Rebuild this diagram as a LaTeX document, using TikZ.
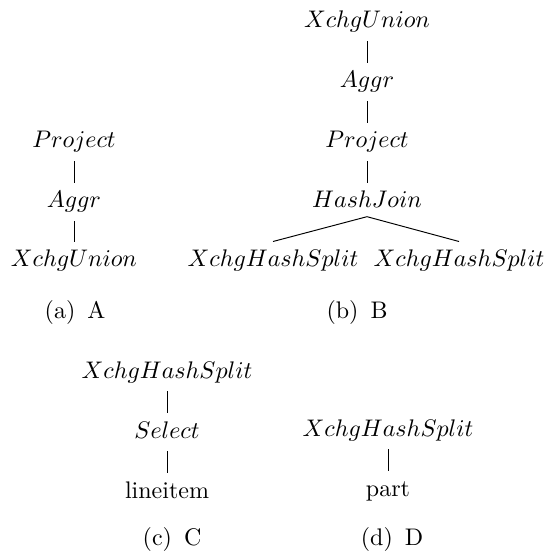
\documentclass[tikz,border=0pt]{standalone}
\begin{document}
\begin{tikzpicture}[x=0.41667pt, y=-0.41667pt,
  op/.style={anchor=base, inner xsep=0pt, inner ysep=3pt,
             text height=7.42pt, text depth=2.42pt},
  subcap/.style={anchor=base, inner sep=0pt},
  edge/.style={line width=0.4pt}]
\useasboundingbox (0,0) rectangle (544,554);

% (a) A
\node[op] (a1) at (74,148) {$Project$};
\node[op] (a2) at (74,208) {$Aggr$};
\node[op] (a3) at (74,267) {$XchgUnion$};
\draw[edge] (a1.south) -- (a2.north);
\draw[edge] (a2.south) -- (a3.north);
\node[subcap] (capa) at (75,319) {(a)\hspace{0.5em}A};

% (b) B
\node[op] (b1) at (367,28) {$XchgUnion$};
\node[op] (b2) at (367,88) {$Aggr$};
\node[op] (b3) at (367,148) {$Project$};
\node[op] (b4) at (367,208) {$HashJoin$};
\node[op] (b5) at (273,267) {$XchgHashSplit$};
\node[op] (b6) at (459,267) {$XchgHashSplit$};
\draw[edge] (b1.south) -- (b2.north);
\draw[edge] (b2.south) -- (b3.north);
\draw[edge] (b3.south) -- (b4.north);
\draw[edge] (b5.north) -- ([yshift=2pt]b4.south) -- (b6.north);
\node[subcap] (capb) at (357,319) {(b)\hspace{0.5em}B};

% (c) C
\node[op] (c1) at (167,378) {$XchgHashSplit$};
\node[op] (c2) at (167,438) {$Select$};
\node[op] (c3) at (167,498) {lineitem};
\draw[edge] (c1.south) -- (c2.north);
\draw[edge] (c2.south) -- (c3.north);
\node[subcap] (capc) at (172,545) {(c)\hspace{0.5em}C};

% (d) D
\node[op] (d1) at (388,436) {$XchgHashSplit$};
\node[op] (d2) at (388,496) {part};
\draw[edge] (d1.south) -- (d2.north);
\node[subcap] (capd) at (392,545) {(d)\hspace{0.5em}D};
\end{tikzpicture}
\end{document}
